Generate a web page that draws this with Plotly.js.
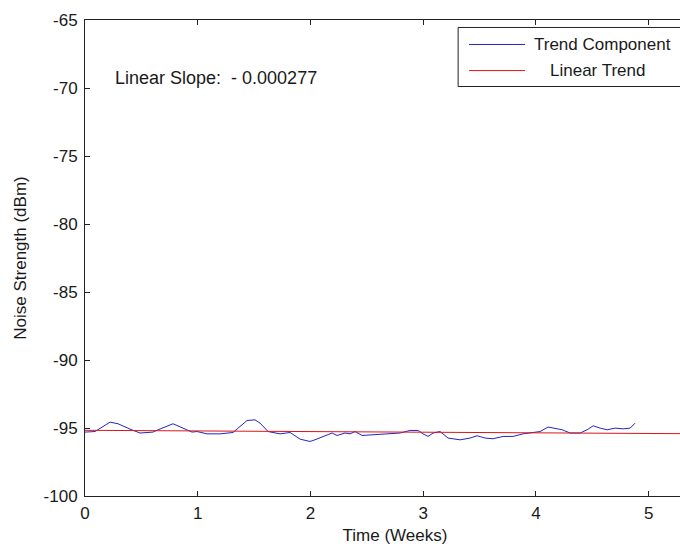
<!DOCTYPE html>
<html>
<head>
<meta charset="utf-8">
<script src="https://cdn.plot.ly/plotly-3.0.1.min.js"></script>
<style>
  html, body { margin: 0; padding: 0; background: #fff; overflow: hidden; width: 680px; height: 548px; }
  #chart { width: 720px; height: 548px; }
</style>
</head>
<body>
<div id="chart"></div>
<script>
// Trend component of the noise measurement (weeks, dBm)
const trendWeeks = [0.000, 0.089, 0.222, 0.293, 0.399, 0.488, 0.603, 0.648, 0.781, 0.887,
  0.949, 0.994, 1.083, 1.198, 1.313, 1.437, 1.508, 1.553, 1.624, 1.730,
  1.819, 1.908, 1.996, 2.023, 2.112, 2.192, 2.236, 2.307, 2.351, 2.396,
  2.458, 2.555, 2.662, 2.795, 2.884, 2.955, 2.999, 3.043, 3.088, 3.150,
  3.221, 3.327, 3.416, 3.478, 3.549, 3.620, 3.709, 3.798, 3.886, 4.037,
  4.108, 4.153, 4.233, 4.304, 4.392, 4.454, 4.508, 4.570, 4.632, 4.703,
  4.774, 4.836, 4.880];
const trendDbm = [-95.30, -95.26, -94.57, -94.69, -95.08, -95.37, -95.30, -95.13, -94.69, -95.08,
  -95.30, -95.26, -95.43, -95.43, -95.33, -94.45, -94.40, -94.64, -95.26, -95.43,
  -95.33, -95.82, -95.99, -95.92, -95.62, -95.37, -95.55, -95.37, -95.43, -95.26,
  -95.55, -95.50, -95.43, -95.37, -95.18, -95.18, -95.43, -95.62, -95.37, -95.26,
  -95.74, -95.87, -95.74, -95.57, -95.74, -95.79, -95.62, -95.62, -95.43, -95.26,
  -94.93, -95.01, -95.13, -95.37, -95.37, -95.13, -94.84, -95.01, -95.13, -95.01,
  -95.06, -95.01, -94.64];

// Linear fit: slope in dBm per hour
const slopePerHour = -0.000277;
const interceptDbm = -95.17;
const fitWeeks = [0, 5.5];
const fitDbm = fitWeeks.map(w => interceptDbm + slopePerHour * w * 168);

const xTicks = [0, 1, 2, 3, 4, 5];
const yTicks = [-100, -95, -90, -85, -80, -75, -70, -65];

const blue = '#2323c8';
const red = '#e01414';
const font = { family: 'Liberation Sans, Arial, sans-serif', size: 17, color: '#1a1a1a' };
const noteFont = Object.assign({}, font, { size: 18 });

const traces = [
  { x: trendWeeks, y: trendDbm, type: 'scatter', mode: 'lines', name: 'Trend Component',
    line: { color: blue, width: 1 } },
  { x: fitWeeks, y: fitDbm, type: 'scatter', mode: 'lines', name: 'Linear Trend',
    line: { color: red, width: 1 } }
];

const axisCommon = {
  showgrid: false, zeroline: false, showline: true, linecolor: '#222', linewidth: 1,
  mirror: 'ticks', ticks: 'inside', ticklen: 5, tickcolor: '#222', tickwidth: 1,
  tickfont: font
};

const layout = {
  width: 720, height: 548,
  margin: { l: 85, r: 15, t: 20, b: 52 },
  paper_bgcolor: '#fff', plot_bgcolor: '#fff',
  showlegend: false,
  font: font,
  xaxis: Object.assign({}, axisCommon, {
    range: [0, 5.5], tickvals: xTicks, ticktext: xTicks.map(String),
    ticklabelstandoff: 2,
    title: { text: 'Time (Weeks)', font: font, standoff: 6 }
  }),
  yaxis: Object.assign({}, axisCommon, {
    range: [-100, -65], tickvals: yTicks, ticktext: yTicks.map(String),
    ticklabelstandoff: 3,
    title: { text: 'Noise Strength (dBm)', font: font, standoff: 12 }
  }),
  annotations: [
    { x: 0.248, y: -69.23, xref: 'x', yref: 'y', xanchor: 'left', yanchor: 'middle',
      text: 'Linear Slope:  - ' + Math.abs(slopePerHour).toFixed(6), showarrow: false, font: noteFont },
    { x: 3.966, y: -66.80, xref: 'x', yref: 'y', xanchor: 'left', yanchor: 'middle',
      text: 'Trend Component', showarrow: false, font: font },
    { x: 4.108, y: -68.72, xref: 'x', yref: 'y', xanchor: 'left', yanchor: 'middle',
      text: 'Linear Trend', showarrow: false, font: font }
  ],
  shapes: [
    { type: 'rect', xref: 'x', yref: 'y', x0: 3.31, x1: 5.45, y0: -69.89, y1: -65.55,
      line: { color: '#222', width: 1 }, fillcolor: '#fff', layer: 'above' },
    { type: 'line', xref: 'x', yref: 'y', x0: 3.407, x1: 3.904, y0: -66.80, y1: -66.80,
      line: { color: blue, width: 1 } },
    { type: 'line', xref: 'x', yref: 'y', x0: 3.407, x1: 3.904, y0: -68.72, y1: -68.72,
      line: { color: red, width: 1 } }
  ]
};

Plotly.newPlot('chart', traces, layout, { staticPlot: true, displayModeBar: false });
</script>
</body>
</html>
